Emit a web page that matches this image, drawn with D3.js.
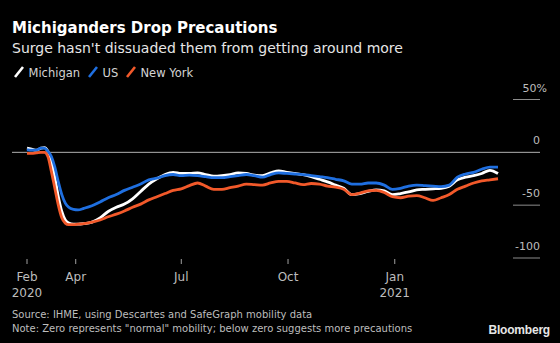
<!DOCTYPE html>
<html>
<head>
<meta charset="utf-8">
<script src="https://cdn.jsdelivr.net/npm/d3@7"></script>
<style>
  html, body { margin: 0; padding: 0; background: #000; }
  svg { display: block; }
  text { font-family: "DejaVu Sans", sans-serif; }
</style>
</head>
<body>
<svg id="chart" width="560" height="343"></svg>
<script>
// Weekly sample dates (denser around the March 2020 drop)
const dates = [
  "2020-02-19","2020-02-23","2020-02-27","2020-03-02","2020-03-05","2020-03-08","2020-03-11",
  "2020-03-14","2020-03-17","2020-03-20","2020-03-23","2020-03-26","2020-03-30","2020-04-03",
  "2020-04-08","2020-04-15","2020-04-22","2020-04-29","2020-05-06","2020-05-13","2020-05-20",
  "2020-05-27","2020-06-03","2020-06-10","2020-06-17","2020-06-24","2020-07-01","2020-07-08",
  "2020-07-15","2020-07-22","2020-07-29","2020-08-05","2020-08-12","2020-08-19","2020-08-26",
  "2020-09-02","2020-09-09","2020-09-16","2020-09-23","2020-09-30","2020-10-07","2020-10-14",
  "2020-10-21","2020-10-28","2020-11-04","2020-11-11","2020-11-18","2020-11-25","2020-12-02",
  "2020-12-09","2020-12-16","2020-12-23","2020-12-30","2021-01-06","2021-01-13","2021-01-20",
  "2021-01-27","2021-02-03","2021-02-10","2021-02-17","2021-02-24","2021-03-03","2021-03-10",
  "2021-03-17","2021-03-24","2021-03-31"
];

// Mobility change vs. normal, %
const michigan = [
  4, 3, 2, 4, 4.5, 1, -8, -24, -42, -56, -64, -67, -68, -68,
  -67.5, -66, -62, -56, -52, -49, -44, -37, -30, -25, -21, -19, -20, -20,
  -19.5, -21, -22.5, -22, -21, -19.5, -20, -21.5, -22, -19.5, -17.5, -19, -20, -21,
  -23, -25.5, -28, -31, -34, -40, -39, -37, -35.5, -36.5, -40, -39, -37.5, -35.5,
  -35, -34.5, -34, -32, -26, -23.5, -22, -20, -17, -20
];
const us = [
  2.5, 2, 2, 4, 4, 1, -4, -14, -28, -40, -48, -52, -54, -54.5,
  -53, -50.5, -47, -43, -40, -36, -33, -30, -26, -24.5, -22, -21, -22, -21.5,
  -22, -23, -24, -24, -23, -22, -21, -22, -23.5, -21, -19.5, -20, -20.5, -21,
  -22, -23, -24, -25.5, -27, -30, -30, -29, -29, -31, -35, -34, -32, -31,
  -31.5, -32, -32.5, -31, -23.5, -20.5, -19, -16, -14, -14
];
const newYork = [
  -1, -1, -0.5, 0, 0, -4, -18, -34, -50, -62, -67, -68.5, -68.5, -68,
  -67.5, -66, -64, -61, -58.5, -55.5, -52, -49, -45, -42, -39, -36, -34.5, -31.5,
  -29, -32, -35, -35, -33.5, -32, -30, -30.5, -31, -29, -27.5, -27.5, -29, -30.5,
  -29.5, -30, -32, -33, -35, -40, -38.5, -36.5, -36, -38, -42, -43, -41.5, -41,
  -43, -45.5, -43, -40, -35, -32, -29, -27, -26, -25
];

const yTicks = [50, 0, -50, -100];
const xTickDates = ["2020-02-19", "2020-04-01", "2020-07-01", "2020-10-01", "2021-01-01"];
const xTickLabels = [["Feb", "2020"], ["Apr"], ["Jul"], ["Oct"], ["Jan", "2021"]];

const seriesNames = ["Michigan", "US", "New York"];
const seriesColors = ["#ffffff", "#1f6fe0", "#f2592a"];

const parse = d3.utcParse("%Y-%m-%d");
const svg = d3.select("#chart");

svg.append("rect").attr("width", 560).attr("height", 343).attr("fill", "#000");

// Title block
svg.append("text").attr("x", 12).attr("y", 33)
  .attr("fill", "#fff").attr("font-size", 15).attr("font-weight", "bold")
  .text("Michiganders Drop Precautions");
svg.append("text").attr("x", 12).attr("y", 53)
  .attr("fill", "#e6e6e6").attr("font-size", 14)
  .text("Surge hasn't dissuaded them from getting around more");

// Legend
const legendX = [14, 88, 126];
const legend = svg.append("g");
seriesNames.forEach((name, i) => {
  const g = legend.append("g").attr("transform", `translate(${legendX[i]},0)`);
  g.append("line").attr("x1", 1).attr("y1", 77).attr("x2", 9).attr("y2", 67)
    .attr("stroke", seriesColors[i]).attr("stroke-width", 2.6).attr("stroke-linecap", "butt");
  g.append("text").attr("x", 14.5).attr("y", 77)
    .attr("fill", "#d4d4d4").attr("font-size", 11.5).text(name);
});

// Scales
const x = d3.scaleUtc()
  .domain([parse(dates[0]), parse(dates[dates.length - 1])])
  .range([27, 498]);
const y = d3.scaleLinear().domain([-100, 50]).range([258, 99.5]);

// Y grid stubs and labels on the right
const yAxis = svg.append("g");
yTicks.forEach(v => {
  if (v === 0) {
    yAxis.append("line").attr("x1", 12).attr("x2", 540)
      .attr("y1", y(v)).attr("y2", y(v))
      .attr("stroke", "#b0b0b0").attr("stroke-width", 1);
  } else {
    yAxis.append("line").attr("x1", 513).attr("x2", 540)
      .attr("y1", y(v)).attr("y2", y(v))
      .attr("stroke", "#8c8c8c").attr("stroke-width", 1);
  }
  yAxis.append("text")
    .attr("x", v === 50 ? 547 : 540).attr("y", y(v) - 8)
    .attr("text-anchor", "end").attr("fill", "#bdbdbd").attr("font-size", 11)
    .text(v === 50 ? "50%" : String(v));
});

// X axis ticks and labels
const xAxis = svg.append("g");
xTickDates.forEach((d, i) => {
  const px = x(parse(d));
  xAxis.append("line").attr("x1", px).attr("x2", px).attr("y1", 259).attr("y2", 264)
    .attr("stroke", "#a0a0a0").attr("stroke-width", 1);
  xTickLabels[i].forEach((lab, j) => {
    xAxis.append("text").attr("x", px).attr("y", 281 + j * 16)
      .attr("text-anchor", "middle").attr("fill", "#bdbdbd").attr("font-size", 12)
      .text(lab);
  });
});

// Lines
const line = d3.line()
  .x((d, i) => x(parse(dates[i])))
  .y(d => y(d))
  .curve(d3.curveMonotoneX);

[michigan, us, newYork].forEach((vals, i) => {
  svg.append("path").datum(vals)
    .attr("d", line)
    .attr("fill", "none")
    .attr("stroke", seriesColors[i])
    .attr("stroke-width", 2.8)
    .attr("stroke-linejoin", "round");
});

// Footer
svg.append("text").attr("x", 12).attr("y", 318)
  .attr("fill", "#bdbdbd").attr("font-size", 10)
  .text("Source: IHME, using Descartes and SafeGraph mobility data");
svg.append("text").attr("x", 12).attr("y", 332)
  .attr("fill", "#bdbdbd").attr("font-size", 10)
  .text("Note: Zero represents \"normal\" mobility; below zero suggests more precautions");
svg.append("text").attr("x", 550).attr("y", 334)
  .attr("text-anchor", "end").attr("fill", "#e6e6e6")
  .attr("font-size", 12).attr("font-weight", "bold")
  .style("font-family", "'Liberation Sans Narrow', 'Liberation Sans', sans-serif")
  .attr("letter-spacing", -0.2)
  .text("Bloomberg");
</script>
</body>
</html>
